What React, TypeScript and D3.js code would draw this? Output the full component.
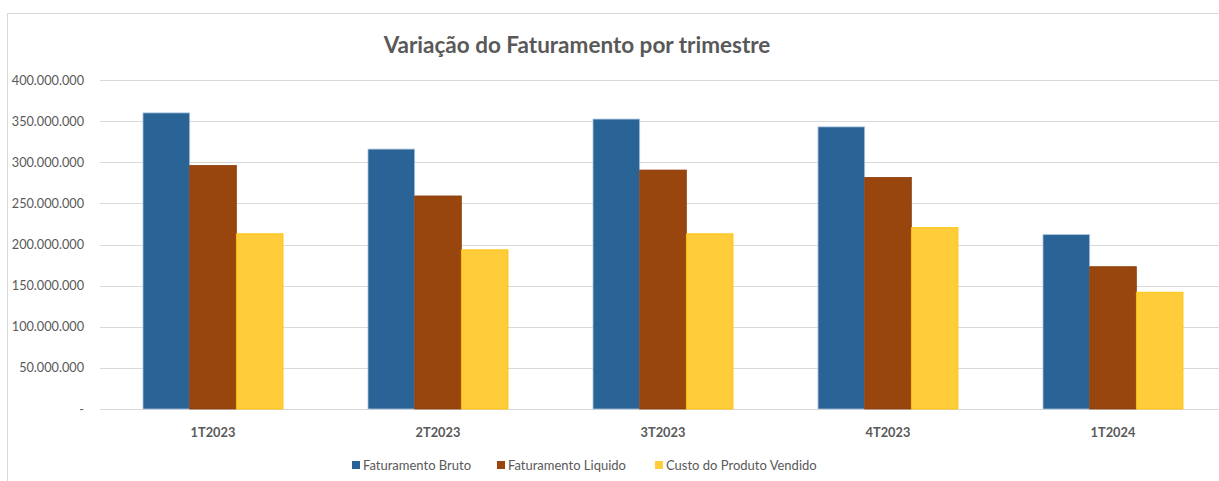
import React from 'react';
import * as d3 from 'd3';

const categories = ['1T2023', '2T2023', '3T2023', '4T2023', '1T2024'];
const bruto = [360000000, 316000000, 352500000, 343000000, 212000000];
const liquido = [296000000, 259000000, 290500000, 281500000, 173000000];
const custo = [213000000, 193500000, 213000000, 220500000, 142000000];
const yTicks = [0, 50000000, 100000000, 150000000, 200000000, 250000000, 300000000, 350000000, 400000000];

const seriesNames = ['Faturamento Bruto', 'Faturamento Liquido', 'Custo do Produto Vendido'];
const seriesValues = [bruto, liquido, custo];
const fills = ['#2A6496', '#98450E', '#FFCC3A'];
const strokes = ['#A9C4DD', '#8A3E0C', '#FFC000'];

const W = 1219;
const H = 481;
const font = 'Lato, "Open Sans", sans-serif';
const textColor = '#595959';

const App = () => {
  const x = d3.scaleBand().domain(categories).range([100.5, 1225.5]).paddingInner(0).paddingOuter(0);
  const y = d3.scaleLinear().domain([0, 400000000]).range([409, 80]);
  const inner = d3.scaleBand().domain(seriesNames).range([0, 140]);
  const fmt = (v) => (v === 0 ? '-' : d3.format(',')(v).replace(/,/g, '.'));

  const legendX = [352, 497, 655];

  return (
    <div style={{ position: 'absolute', left: 0, top: 0 }}>
      <svg width={W} height={H} style={{ display: 'block', background: '#fff' }}>
        <rect x={7.5} y={13.5} width={W} height={H} fill="#fff" stroke="#D9D9D9" />
        <text x={577} y={53} textAnchor="middle" fontFamily={font} fontWeight="bold" fontSize={22.5} fill={textColor}>
          Variação do Faturamento por trimestre
        </text>
        {yTicks.map((t) => (
          <g key={t}>
            <line x1={100} x2={W} y1={Math.round(y(t)) + 0.5} y2={Math.round(y(t)) + 0.5} stroke="#D9D9D9" strokeWidth={1} />
            <text x={84} y={y(t) + 4.5} textAnchor="end" fontFamily={font} fontSize={12.7} fill={textColor}>
              {fmt(t)}
            </text>
          </g>
        ))}
        {categories.map((c, i) => (
          <g key={c} transform={`translate(${x(c) + (x.bandwidth() - 140) / 2},0)`}>
            {seriesNames.map((s, j) => (
              <rect
                key={s}
                x={inner(s)}
                y={y(seriesValues[j][i])}
                width={inner.bandwidth()}
                height={y(0) - y(seriesValues[j][i])}
                fill={fills[j]}
                stroke={strokes[j]}
                strokeWidth={0.8}
              />
            ))}
          </g>
        ))}
        {categories.map((c) => (
          <text key={c} x={x(c) + x.bandwidth() / 2} y={437} textAnchor="middle" fontFamily={font} fontWeight="bold" fontSize={12.8} fill={textColor}>
            {c}
          </text>
        ))}
        {seriesNames.map((s, j) => (
          <g key={s} transform={`translate(${legendX[j]},0)`}>
            <rect x={0} y={461} width={8} height={8} fill={fills[j]} />
            <text x={11} y={470} fontFamily={font} fontSize={13} fill={textColor}>
              {s}
            </text>
          </g>
        ))}
      </svg>
    </div>
  );
};

export default App;
